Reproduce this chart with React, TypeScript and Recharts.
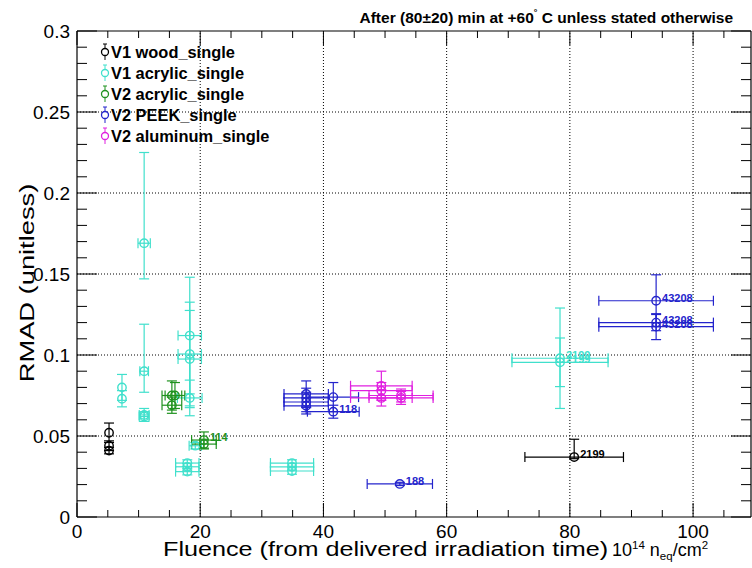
import { ScatterChart, Scatter, XAxis, YAxis, ErrorBar, ReferenceLine } from 'recharts';

type Err = number | [number, number];
type Pt = { x: number; y: number; ex: Err; ey: Err; tag?: string };

// fluence (1e14 neq/cm2), RMAD, x error, y error ([down, up] where asymmetric), annotation
const woodSingle: Pt[] = [
  { x: 5.2, y: 0.052, ex: 0, ey: 0.006 },
  { x: 5.2, y: 0.044, ex: 0, ey: 0.003 },
  { x: 5.2, y: 0.041, ex: 0, ey: 0.002 },
  { x: 80.7, y: 0.037, ex: 8.0, ey: [0.001, 0.011], tag: '2199' },
];

const acrylicV1: Pt[] = [
  { x: 7.3, y: 0.08, ex: 0, ey: 0.008 },
  { x: 7.3, y: 0.073, ex: 0, ey: 0.005 },
  { x: 10.9, y: 0.169, ex: 1.0, ey: [0.022, 0.056] },
  { x: 10.9, y: 0.09, ex: 0.7, ey: [0.013, 0.029] },
  { x: 10.9, y: 0.063, ex: 0.8, ey: 0.004 },
  { x: 10.9, y: 0.062, ex: 0.8, ey: 0.003 },
  { x: 18.3, y: 0.112, ex: 1.9, ey: 0.036 },
  { x: 18.3, y: 0.1006, ex: 1.9, ey: 0.032 },
  { x: 18.3, y: 0.0975, ex: 1.9, ey: 0.03 },
  { x: 18.3, y: 0.0735, ex: 2.0, ey: 0.011 },
  { x: 19.2, y: 0.044, ex: 1.0, ey: 0.002 },
  { x: 17.9, y: 0.0333, ex: 1.9, ey: 0.002 },
  { x: 17.9, y: 0.031, ex: 1.9, ey: 0.002 },
  { x: 17.9, y: 0.028, ex: 1.9, ey: 0.002 },
  { x: 34.9, y: 0.0333, ex: 3.5, ey: 0.002 },
  { x: 34.9, y: 0.031, ex: 3.5, ey: 0.002 },
  { x: 34.9, y: 0.0284, ex: 3.5, ey: 0.002 },
  { x: 78.4, y: 0.098, ex: 7.8, ey: 0.031, tag: '2199' },
  { x: 78.4, y: 0.0955, ex: 7.8, ey: 0.015, tag: '2199' },
];

const acrylicV2: Pt[] = [
  { x: 15.4, y: 0.075, ex: 1.6, ey: 0.009 },
  { x: 15.9, y: 0.075, ex: 1.6, ey: 0.008 },
  { x: 15.4, y: 0.069, ex: 1.6, ey: 0.005 },
  { x: 20.6, y: 0.0475, ex: 2.0, ey: 0.005, tag: '114' },
  { x: 20.6, y: 0.045, ex: 2.0, ey: 0.003 },
];

const peekV2: Pt[] = [
  { x: 37.2, y: 0.076, ex: 3.6, ey: 0.008 },
  { x: 37.2, y: 0.0735, ex: 3.6, ey: 0.006 },
  { x: 37.2, y: 0.071, ex: 3.6, ey: 0.006 },
  { x: 37.2, y: 0.0686, ex: 3.6, ey: 0.005 },
  { x: 41.6, y: 0.074, ex: 4.1, ey: 0.009 },
  { x: 41.6, y: 0.065, ex: 4.2, ey: 0.004, tag: '118' },
  { x: 52.4, y: 0.0204, ex: 5.3, ey: 0.001, tag: '188' },
  { x: 94.0, y: 0.1335, ex: 9.3, ey: 0.016, tag: '43208' },
  { x: 94.0, y: 0.12, ex: 9.3, ey: 0.005, tag: '43208' },
  { x: 94.0, y: 0.1175, ex: 9.3, ey: 0.008, tag: '43208' },
];

const aluminumV2: Pt[] = [
  { x: 49.4, y: 0.081, ex: 5.0, ey: 0.009 },
  { x: 49.4, y: 0.078, ex: 5.0, ey: 0.005 },
  { x: 49.4, y: 0.0735, ex: 5.0, ey: 0.005 },
  { x: 52.6, y: 0.075, ex: 5.2, ey: 0.004 },
  { x: 52.6, y: 0.0735, ex: 5.2, ey: 0.004 },
];

const xMajor = [0, 20, 40, 60, 80, 100];
const xTicks = [0, 5, 10, 15, 20, 25, 30, 35, 40, 45, 50, 55, 60, 65, 70, 75, 80, 85, 90, 95, 100, 105];
const yMajorLabels = ['0', '0.05', '0.1', '0.15', '0.2', '0.25', '0.3'];
const yTicks = Array.from({ length: 31 }, (_, i) => +(i * 0.01).toFixed(2));
const xGrid = [20, 40, 60, 80, 100];
const yGrid = [0.05, 0.1, 0.15, 0.2, 0.25];

const series = [
  { name: 'V1 wood_single', color: '#000000', data: woodSingle },
  { name: 'V1 acrylic_single', color: '#40e0cc', data: acrylicV1 },
  { name: 'V2 acrylic_single', color: '#1f921f', data: acrylicV2 },
  { name: 'V2 PEEK_single', color: '#2424cc', data: peekV2 },
  { name: 'V2 aluminum_single', color: '#e020e0', data: aluminumV2 },
];

const FONT = '"Liberation Sans", Arial, Helvetica, sans-serif';
const W = 752;
const H = 568;
const PLOT = { left: 77, top: 31, right: 751, bottom: 517 };
const X_MAX = 109.4;

function XTick(props: any) {
  const { x, y, payload } = props;
  const v = payload.value;
  const major = xMajor.includes(v);
  const len = major ? 14 : 7;
  return (
    <g>
      <line x1={x} x2={x} y1={y} y2={y - len} stroke="#000" strokeWidth={1} />
      <line x1={x} x2={x} y1={PLOT.top} y2={PLOT.top + len} stroke="#000" strokeWidth={1} />
      {major && (
        <text x={x} y={y + 21} textAnchor="middle" fontSize={19} fontFamily={FONT} fill="#000">
          {v}
        </text>
      )}
    </g>
  );
}

function YTick(props: any) {
  const { x, y, payload } = props;
  const v = payload.value;
  const k = v * 20;
  const major = Math.abs(k - Math.round(k)) < 1e-6;
  const len = major ? 20 : 10;
  return (
    <g>
      <line x1={x} x2={x + len} y1={y} y2={y} stroke="#000" strokeWidth={1} />
      <line x1={PLOT.right} x2={PLOT.right - len} y1={y} y2={y} stroke="#000" strokeWidth={1} />
      {major && (
        <text x={x - 7} y={y + 7} textAnchor="end" fontSize={19} fontFamily={FONT} fill="#000">
          {yMajorLabels[Math.round(k)]}
        </text>
      )}
    </g>
  );
}

const pointShape = (color: string) => (props: any) => {
  const { cx, cy, payload } = props;
  return (
    <g>
      <circle cx={cx} cy={cy} r={4.2} fill="none" stroke={color} strokeWidth={1.4} />
      {payload.tag && (
        <text x={cx + 6} y={cy + 1} fontSize={11} fontWeight="bold" fontFamily={FONT} fill={color}>
          {payload.tag}
        </text>
      )}
    </g>
  );
};

export default function App() {
  return (
    <div style={{ position: 'absolute', left: 0, top: 0, width: W, height: H, background: '#fff' }}>
      <ScatterChart
        width={W}
        height={H}
        margin={{ top: PLOT.top, right: W - PLOT.right, left: PLOT.left - 60, bottom: H - PLOT.bottom - 30 }}
      >
        <XAxis
          type="number"
          dataKey="x"
          domain={[0, X_MAX]}
          ticks={xTicks}
          interval={0}
          height={30}
          tickSize={0}
          tickMargin={0}
          tickLine={false}
          axisLine={{ stroke: '#000', strokeWidth: 1.2 }}
          tick={<XTick />}
          allowDataOverflow
        />
        <YAxis
          type="number"
          dataKey="y"
          domain={[0, 0.3]}
          ticks={yTicks}
          interval={0}
          width={60}
          tickSize={0}
          tickMargin={0}
          tickLine={false}
          axisLine={{ stroke: '#000', strokeWidth: 1.2 }}
          tick={<YTick />}
          allowDataOverflow
        />
        {xGrid.map((v) => (
          <ReferenceLine key={'gx' + v} x={v} stroke="#000" strokeWidth={1} strokeDasharray="1 2" />
        ))}
        {yGrid.map((v) => (
          <ReferenceLine key={'gy' + v} y={v} stroke="#000" strokeWidth={1} strokeDasharray="1 2" />
        ))}
        <ReferenceLine y={0.3} stroke="#000" strokeWidth={1.2} />
        <ReferenceLine x={X_MAX} stroke="#000" strokeWidth={1.2} />
        {series.map((s) => (
          <Scatter
            key={s.name}
            name={s.name}
            data={s.data}
            fill="none"
            stroke={s.color}
            shape={pointShape(s.color)}
            isAnimationActive={false}
          >
            <ErrorBar dataKey="ex" direction="x" stroke={s.color} strokeWidth={1.2} width={5} isAnimationActive={false} />
            <ErrorBar dataKey="ey" direction="y" stroke={s.color} strokeWidth={1.2} width={5} isAnimationActive={false} />
          </Scatter>
        ))}
      </ScatterChart>
      <svg
        width={W}
        height={H}
        style={{ position: 'absolute', left: 0, top: 0, pointerEvents: 'none' }}
        fontFamily={FONT}
      >
        <text x={733} y={23} textAnchor="end" fontSize={15.5} fontWeight="bold" fill="#000">
          After (80±20) min at +60
          <tspan dy={-8} fontSize={9}>°</tspan>
          <tspan dy={8}> C unless stated otherwise</tspan>
        </text>
        <text
          x={0}
          y={0}
          textAnchor="middle"
          fontSize={21}
          fill="#000"
          transform="translate(34 283) rotate(-90) scale(1.3 1)"
        >
          RMAD (unitless)
        </text>
        <text x={0} y={0} fontSize={21} fill="#000" transform="translate(163 556) scale(1.2 1)">
          Fluence (from delivered irradiation time)
        </text>
        <text x={612} y={556} fontSize={18} fill="#000">
          10
          <tspan dy={-7} fontSize={11.5}>14</tspan>
          <tspan dy={7}> n</tspan>
          <tspan dy={4} fontSize={11.5}>eq</tspan>
          <tspan dy={-4}>/cm</tspan>
          <tspan dy={-7} fontSize={11.5}>2</tspan>
        </text>
        {series.map((s, i) => {
          const cy = 52 + i * 21;
          return (
            <g key={s.name}>
              <line x1={105} x2={105} y1={cy - 8} y2={cy + 8} stroke={s.color} strokeWidth={1} />
              <line x1={103} x2={107} y1={cy - 8} y2={cy - 8} stroke={s.color} strokeWidth={1} />
              <circle cx={105} cy={cy} r={3.5} fill="#fff" stroke={s.color} strokeWidth={1.3} />
              <text x={111} y={cy + 6} fontSize={16.4} fontWeight="bold" fill="#000">
                {s.name}
              </text>
            </g>
          );
        })}
      </svg>
    </div>
  );
}
